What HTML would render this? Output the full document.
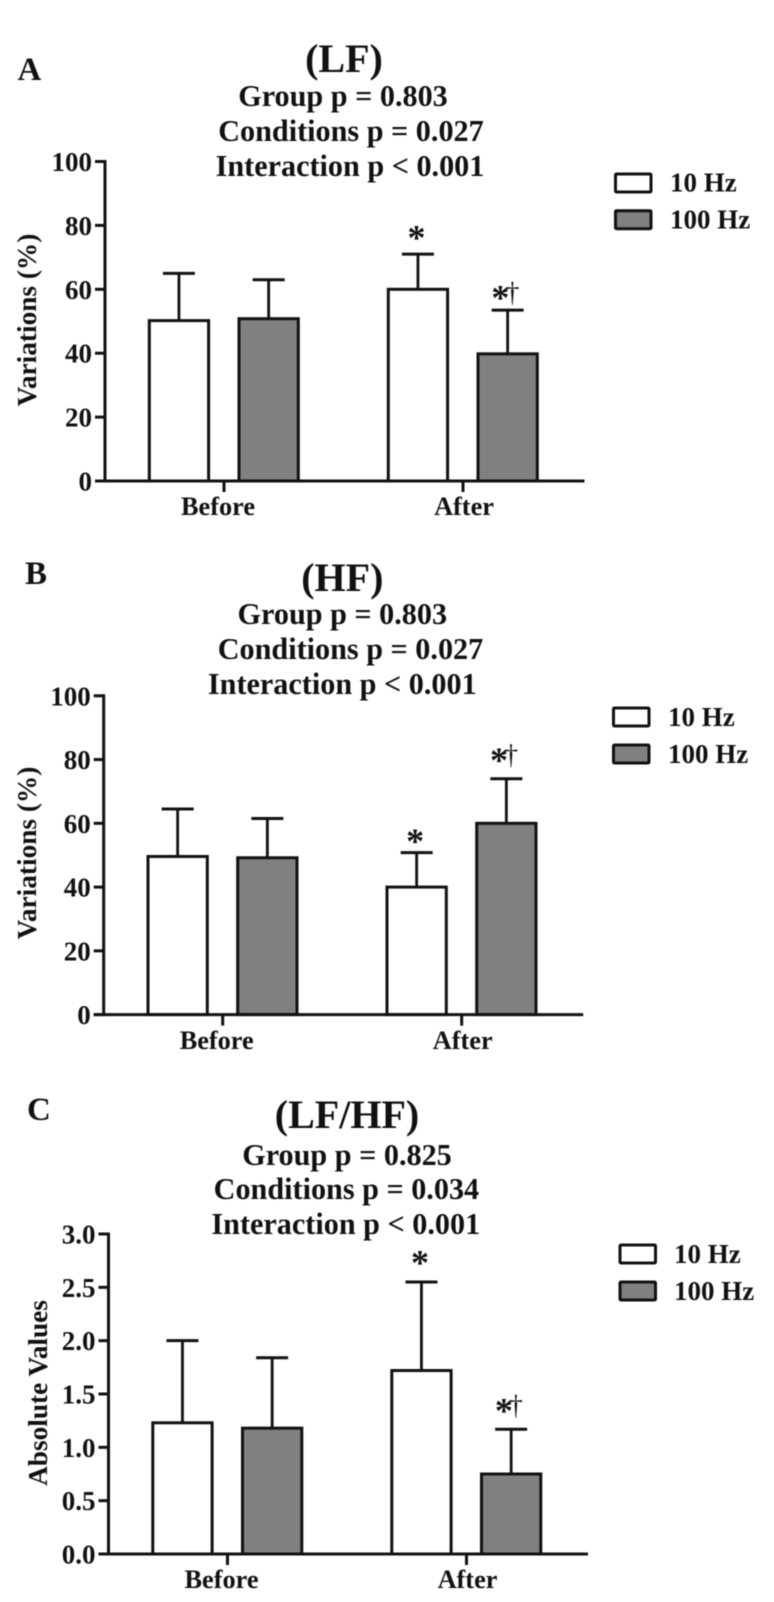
<!DOCTYPE html>
<html lang="en">
<head>
<meta charset="utf-8">
<title>LF, HF and LF/HF variations</title>
<style>
html,body{margin:0;padding:0;background:#fff;width:774px;height:1602px;overflow:hidden}
svg{display:block;filter:blur(0.45px)}
text{font-family:"Liberation Serif",serif;font-weight:bold;fill:#111}
</style>
</head>
<body>
<svg id="figure" xmlns="http://www.w3.org/2000/svg" width="774" height="1602" viewBox="0 0 774 1602"></svg>
<script>
const categories = ['Before', 'After'];
const seriesNames = ['10 Hz', '100 Hz'];

const lfTicks = ['0', '20', '40', '60', '80', '100'];
const lf10Means = [50.2, 60];
const lf10Tops = [65, 71];
const lf100Means = [50.8, 39.8];
const lf100Tops = [63, 53.5];

const hfTicks = ['0', '20', '40', '60', '80', '100'];
const hf10Means = [49.6, 40];
const hf10Tops = [64.5, 50.8];
const hf100Means = [49.2, 60];
const hf100Tops = [61.5, 74];

const ratioTicks = ['0.0', '0.5', '1.0', '1.5', '2.0', '2.5', '3.0'];
const ratio10Means = [1.23, 1.72];
const ratio10Tops = [2.0, 2.55];
const ratio100Means = [1.18, 0.75];
const ratio100Tops = [1.84, 1.17];

const lfStars = [['', ''], ['*', '*†']];
const hfStars = [['', ''], ['*', '*†']];
const ratioStars = [['', ''], ['*', '*†']];

const panels = [
  {id:'lf', letter:'A', lx:17.5, ly:80, title:'(LF)', tx:344, ty:72, starDy:[-2, 0],
   lines:[['Group p = 0.803',343,106],['Conditions p = 0.027',351,141],['Interaction p < 0.001',350,176]],
   x0:105, yTop:161.5, yBot:481, max:100, ticks:lfTicks, means:[lf10Means,lf100Means], tops:[lf10Tops,lf100Tops], stars:lfStars,
   yTitle:'Variations (%)', ytx:36, yty:320, legX:615.5, legY:[174,210.7], legTx:670, legB:[191.7,228.3], catY:515},
  {id:'hf', letter:'B', lx:25, ly:584, title:'(HF)', tx:342.3, ty:591, starDy:[3, -6],
   lines:[['Group p = 0.803',342.3,624],['Conditions p = 0.027',350.5,659],['Interaction p < 0.001',342.3,694]],
   x0:103.7, yTop:695.8, yBot:1014.6, max:100, ticks:hfTicks, means:[hf10Means,hf100Means], tops:[hf10Tops,hf100Tops], stars:hfStars,
   yTitle:'Variations (%)', ytx:36, yty:853, legX:613.5, legY:[708,745], legTx:668, legB:[726,763], catY:1049},
  {id:'ratio', letter:'C', lx:27, ly:1120, title:'(LF/HF)', tx:347, ty:1128, starDy:[-5, -6],
   lines:[['Group p = 0.825',347,1165],['Conditions p = 0.034',346.4,1199],['Interaction p < 0.001',345.8,1234]],
   x0:108.5, yTop:1234, yBot:1554, max:3, ticks:ratioTicks, means:[ratio10Means,ratio100Means], tops:[ratio10Tops,ratio100Tops], stars:ratioStars,
   yTitle:'Absolute Values', ytx:47, yty:1393, legX:620, legY:[1245,1282], legTx:674, legB:[1263,1300], catY:1588}
];

const NS = 'http://www.w3.org/2000/svg';
const root = document.getElementById('figure');

function make(parent, tag, attrs, content) {
  const el = document.createElementNS(NS, tag);
  for (const k in attrs) el.setAttribute(k, attrs[k]);
  if (content !== undefined) el.textContent = content;
  parent.appendChild(el);
  return el;
}

panels.forEach(function (p) {
  const g = make(root, 'g', {});
  
  

  const yScale = function (v) { return p.yBot - (v / p.max) * (p.yBot - p.yTop); };
  const groupCenter = function (i) { return p.x0 + 119 + i * 239; };
  const barLeft = function (gi, si) { return groupCenter(gi) - 74.7 + si * 89.7; };

  const letter = make(g, 'text', {x:p.lx, y:p.ly, 'font-size':33}, p.letter);
  
  

  const title = make(g, 'text', {x:p.tx, y:p.ty, 'font-size':40, 'text-anchor':'middle'}, p.title);
  
  

  p.lines.forEach(function (l) {
    const t = make(g, 'text', {x:l[1], y:l[2], 'font-size':30.2, 'text-anchor':'middle'}, l[0]);
    
    
  });

  p.means.forEach(function (seriesMeans, si) {
    seriesMeans.forEach(function (m, gi) {
      const left = barLeft(gi, si);
      const cx = left + 29.65;
      const yM = yScale(m);
      const yT = yScale(p.tops[si][gi]);

      const stem = make(g, 'line', {x1:cx, x2:cx, y1:yM, y2:yT, stroke:'#111', 'stroke-width':2.8});
      
      

      const cap = make(g, 'line', {x1:cx - 16, x2:cx + 16, y1:yT, y2:yT, stroke:'#111', 'stroke-width':3});
      
      

      const bar = make(g, 'rect', {x:left, y:yM, width:59.3, height:p.yBot - yM,
        fill: si === 0 ? '#ffffff' : '#808080', stroke:'#111', 'stroke-width':3});
      
      

      const mark = p.stars[gi][si];
      if (mark) {
        const hasDagger = mark.length > 1;
        const dy = p.starDy[hasDagger ? 1 : 0];
        const star = make(g, 'text', {x: hasDagger ? cx - 7.3 : cx - 1.5, y: (hasDagger ? yT - 0.7 : yT - 2.7) + dy,
          'font-size':36, 'text-anchor':'middle'}, '*');
        
        
        if (hasDagger) {
          const dag = make(g, 'text', {x:cx + 4.7, y:yT - 8.6 + dy, 'font-size':28, 'text-anchor':'middle',
            style:'font-weight:normal'}, '†');
          
          
        }
      }
    });
  });

  const yAxis = make(g, 'line', {x1:p.x0, x2:p.x0, y1:p.yTop - 1.5, y2:p.yBot + 1.5, stroke:'#111', 'stroke-width':3});
  
  

  const xAxis = make(g, 'line', {x1:p.x0 - 10, x2:p.x0 + 479.5, y1:p.yBot, y2:p.yBot, stroke:'#111', 'stroke-width':3});
  
  

  p.ticks.forEach(function (label) {
    const v = parseFloat(label);
    const y = yScale(v);
    const tick = make(g, 'line', {x1:p.x0 - 10, x2:p.x0, y1:y, y2:y, stroke:'#111', 'stroke-width':3});
    
    
    const t = make(g, 'text', {x:p.x0 - 13, y:y + 9.5, 'font-size':27, 'text-anchor':'end'}, label);
    
    
  });

  categories.forEach(function (c, i) {
    const cx = groupCenter(i);
    const tick = make(g, 'line', {x1:cx, x2:cx, y1:p.yBot, y2:p.yBot + 11, stroke:'#111', 'stroke-width':3});
    
    
    const t = make(g, 'text', {x:cx + (i === 0 ? -6 : 1), y:p.catY, 'font-size':26.3, 'text-anchor':'middle'}, c);
    
    
  });

  const yt = make(g, 'text', {x:p.ytx, y:p.yty, 'font-size':27.3, 'text-anchor':'middle',
    transform:'rotate(-90 ' + p.ytx + ' ' + p.yty + ')'}, p.yTitle);
  
  

  seriesNames.forEach(function (name, si) {
    const sw = make(g, 'rect', {x:p.legX, y:p.legY[si], width:35.5, height:18,
      fill: si === 0 ? '#ffffff' : '#808080', stroke:'#111', 'stroke-width':3, rx:1});
    
    
    const t = make(g, 'text', {x:p.legTx, y:p.legB[si], 'font-size':27}, name);
    
    
  });
});
</script>
</body>
</html>
